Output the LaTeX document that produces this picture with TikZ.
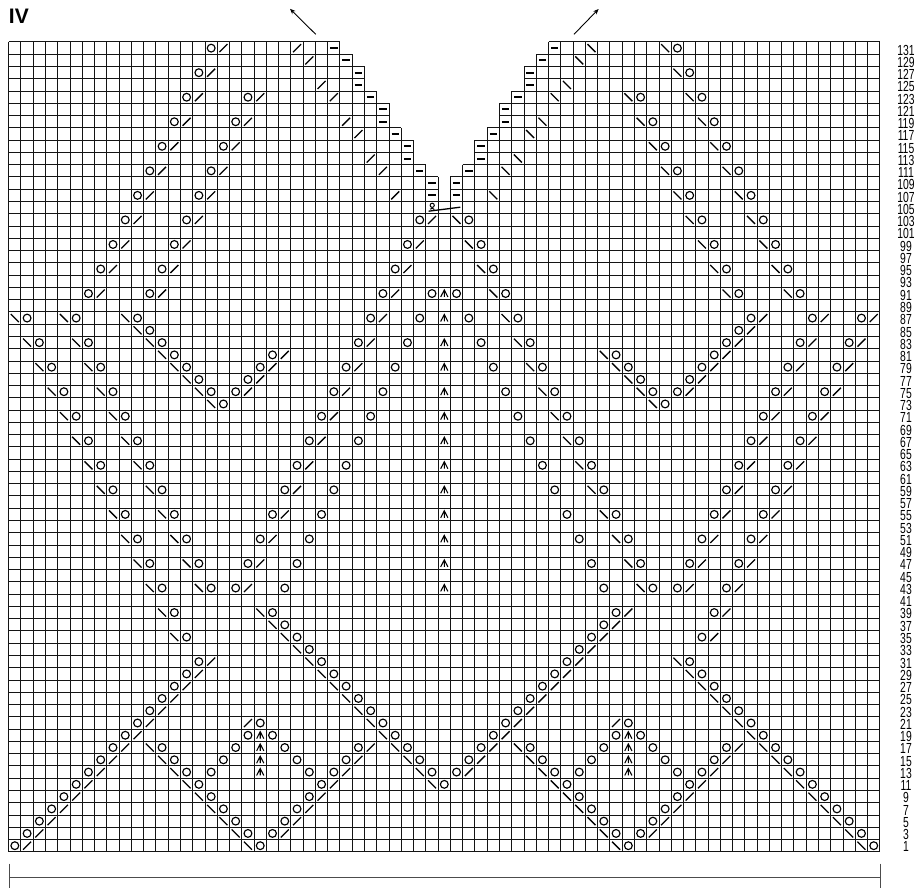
\documentclass[tikz,border=0pt]{standalone}
\usepackage{fontspec}
\setmainfont{Liberation Sans}
\newfontfamily\numfont[FakeStretch=0.71]{Liberation Sans}
\usetikzlibrary{arrows.meta}
\tikzset{
  gridline/.style={line width=1pt,black!92},
  sym/.style={line width=1.15pt,black},
  slash/.style={line width=1.3pt,black},
  dashbar/.style={line width=2pt,black},
  rowlabel/.style={font=\numfont\fontsize{14.6}{14.6}\selectfont,inner sep=0pt,anchor=center},
  bracket/.style={line width=1pt,black!70},
  leader/.style={line width=0.9pt,black,-{Stealth[length=5.5pt,width=4.5pt]}}
}
\newcommand\mkO[2]{\draw[sym] ({cx(#2)},{cy(#1)}) circle[radius=3.9];}
\newcommand\mkF[2]{\draw[slash] ({cx(#2)-4},{cy(#1)+4}) -- ({cx(#2)+4},{cy(#1)-4});}
\newcommand\mkB[2]{\draw[slash] ({cx(#2)-4},{cy(#1)-4}) -- ({cx(#2)+4},{cy(#1)+4});}
\newcommand\mkD[2]{\draw[dashbar] ({cx(#2)-3.7},{cy(#1)}) -- ({cx(#2)+3.7},{cy(#1)});}
\newcommand\mkK[2]{\draw[line width=1.05pt,black] ({cx(#2)-3.6},{cy(#1)+3.4}) -- ({cx(#2)},{cy(#1)-3.6}) -- ({cx(#2)+3.6},{cy(#1)+3.4}) ({cx(#2)},{cy(#1)-3.6}) -- ({cx(#2)},{cy(#1)+3.4});}
\begin{document}
\begin{tikzpicture}[x=1pt,y=-1pt,
  declare function={cx(\a)=8.7+12.27*(\a+0.5); cy(\a)=42+12.27*(\a+0.5); gx(\a)=8.7+12.27*\a; gy(\a)=42+12.27*\a;}]
\useasboundingbox (0,0) rectangle (915,888);
% grid: horizontal lines, left and right parts of stepped top
\foreach \rw/\e in {0/27,1/28,2/29,3/29,4/30,5/31,6/31,7/32,8/33,9/33,10/34,11/35,12/35}{
  \draw[gridline] ({gx(0)},{gy(\rw)}) -- ({gx(\e)},{gy(\rw)});
  \draw[gridline] ({gx(71-\e)},{gy(\rw)}) -- ({gx(71)},{gy(\rw)});
}
\foreach \rw in {13,...,66}{
  \draw[gridline] ({gx(0)},{gy(\rw)}) -- ({gx(71)},{gy(\rw)});
}
% grid: vertical lines
\foreach \k in {0,...,27}{
  \draw[gridline] ({gx(\k)},{gy(0)}) -- ({gx(\k)},{gy(66)});
  \draw[gridline] ({gx(71-\k)},{gy(0)}) -- ({gx(71-\k)},{gy(66)});
}
\foreach \k/\s in {28/1,29/2,30/4,31/5,32/7,33/8,34/10,35/11}{
  \draw[gridline] ({gx(\k)},{gy(\s)}) -- ({gx(\k)},{gy(66)});
  \draw[gridline] ({gx(71-\k)},{gy(\s)}) -- ({gx(71-\k)},{gy(66)});
}
% yarn-over + slant pairs, mirrored
\foreach \rw/\cl in {0/16,2/15,4/14,4/19,6/13,6/18,8/12,8/17,10/11,10/16,12/10,12/15,14/9,14/14,14/33,16/8,16/13,16/32,18/7,18/12,18/31,20/6,20/11,20/30,22/29,24/28,25/21,26/20,26/27,27/19,28/18,28/26,30/25,32/24,34/23,36/22,38/21,40/20,42/19,44/18,50/15,51/14,52/13,53/12,54/11,55/10,56/9,57/8,57/28,58/7,58/27,59/6,59/26,60/5,60/25,61/4,61/24,62/3,62/23,63/2,63/22,64/1,64/21,65/0}{
  \mkO{\rw}{\cl}\mkF{\rw}{\cl+1}\mkB{\rw}{69-\cl}\mkO{\rw}{70-\cl}
}
\foreach \rw/\cl in {22/0,22/4,22/9,23/10,24/1,24/5,24/11,25/12,26/2,26/6,26/13,27/14,28/3,28/7,28/15,30/4,30/8,32/5,32/9,34/6,34/10,36/7,36/11,38/8,38/12,40/9,40/13,42/10,42/14,44/11,44/15,46/12,46/20,47/21,48/13,48/22,49/23,50/24,51/25,52/26,53/27,54/28,55/29,56/30,57/11,57/31,58/12,58/32,59/13,59/33,60/14,61/15,62/16,63/17,64/18}{
  \mkB{\rw}{\cl}\mkO{\rw}{\cl+1}\mkO{\rw}{69-\cl}\mkF{\rw}{70-\cl}
}
% single yarn-overs, mirrored
\foreach \rw/\cl in {20/34,22/33,24/32,26/31,28/30,30/29,32/28,34/27,36/26,38/25,40/24,42/23,44/22,56/19,56/21,57/18,57/22,58/17,58/23,59/16,59/24}{
  \mkO{\rw}{\cl}\mkO{\rw}{70-\cl}
}
% unmirrored tips
\foreach \rw/\cl in {29/16,29/52,60/34,65/19,65/49}{
  \mkB{\rw}{\cl}\mkO{\rw}{\cl+1}
}
\foreach \rw/\cl in {55/19,55/49}{
  \mkF{\rw}{\cl}\mkO{\rw}{\cl+1}
}
% double decreases
\foreach \rw in {20,22,...,44}{\mkK{\rw}{35}}
\foreach \rw in {56,57,58,59}{\mkK{\rw}{20}\mkK{\rw}{50}}
% purl bars along the neck edge
\foreach \rw/\cl in {0/26,1/27,2/28,3/28,4/29,5/30,6/30,7/31,8/32,9/32,10/33,11/34,12/34}{
  \mkD{\rw}{\cl}\mkD{\rw}{70-\cl}
}
% lone slants at neck
\foreach \rw/\cl in {0/23,1/24,3/25,4/26,6/27,7/28,9/29,10/30,12/31}{
  \mkF{\rw}{\cl}\mkB{\rw}{70-\cl}
}
% centre bind-off mark
\draw[line width=1pt] (432.2,205.3) circle[radius=2.1];
\draw[line width=1pt] (430.2,209.2) .. controls (431,207.8) and (433.6,207.8) .. (434.4,209.6);
\draw[line width=1.3pt] (428.6,211.2) -- (460.3,207.2);
% row numbers
\foreach \rw in {0,...,65}{
  \pgfmathtruncatemacro{\lab}{131-2*\rw}
  \node[rowlabel] (row\lab) at (906,{50+12.26*\rw}) {\lab};
}
% title
\node[font=\bfseries\fontsize{21}{21}\selectfont,inner sep=0pt,anchor=west] (title) at (8.8,16.5) {IV};
% direction arrows
\coordinate (al) at (315.7,34.3); \coordinate (alt) at (290,8.8);
\coordinate (ar) at (574,34.3); \coordinate (art) at (598.6,9);
\draw[leader] (al) -- (alt);
\draw[leader] (ar) -- (art);
% width bracket
\coordinate (bl) at (9.4,877.7); \coordinate (br) at (880.3,877.7);
\draw[bracket] (bl) -- (br);
\draw[bracket] (9.4,863.5) -- (9.4,888);
\draw[bracket] (880.3,863.5) -- (880.3,888);
\end{tikzpicture}
\end{document}
